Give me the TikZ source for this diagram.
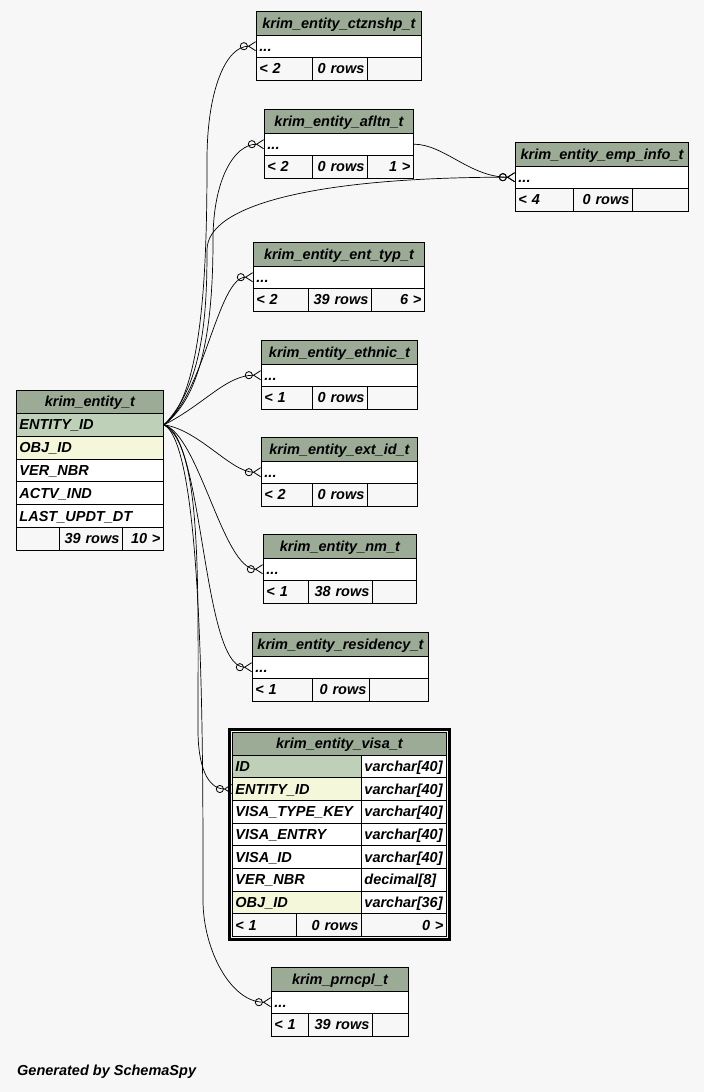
\documentclass[tikz,border=0pt]{standalone}
\usepackage{fontspec}
\setmainfont{Liberation Sans}
\usetikzlibrary{arrows.meta}

\definecolor{bgcol}{HTML}{F7F7F7}
\definecolor{headcol}{HTML}{9BAB96}
\definecolor{pkcol}{HTML}{BED1B8}
\definecolor{idxcol}{HTML}{F4F7DA}

\tikzset{
  tblcell/.style={draw, line width=0.9pt, anchor=north west, inner xsep=3pt, inner ysep=0pt,
    text height=12pt, text depth=2pt, align=left,
    font=\fontsize{14.5}{16}\selectfont\bfseries\itshape},
  tblhead/.style={tblcell, fill=headcol, align=center, minimum height=23.5pt},
  tblrow/.style={tblcell, fill=white, minimum height=22.7pt},
  tblfoot/.style={tblcell, fill=bgcol, minimum height=22.5pt},
  fk/.style={line width=0.7pt,
    -{Circle[open,length=8pt,line width=0.8pt]Straight Barb[reversed,length=7pt,width=9pt,line width=0.8pt]}}
}

\begin{document}
\begin{tikzpicture}[x=1pt,y=-1pt]
  \fill[bgcol] (0,0) rectangle (704,1092);
  \useasboundingbox (0,0) rectangle (704,1092);

  % the table in focus
  \node[tblhead, text width=141pt] (ent-head) at (16,389.5) {krim\_entity\_t};
  \foreach \n/\lbl/\col [count=\r from 0] in {id/{ENTITY\_ID}/pkcol, obj/{OBJ\_ID}/idxcol,
      ver/{VER\_NBR}/white, actv/{ACTV\_IND}/white, upd/{LAST\_UPDT\_DT}/white}
    \node[tblrow, text width=141pt, fill=\col] (ent-\n) at (16,{413+22.8*\r}) {\lbl};
  \node[tblfoot, text width=37pt] (ent-fa) at (16,527) {};
  \node[tblfoot, text width=57pt, align=right] (ent-fb) at (59,527) {39 rows};
  \node[tblfoot, text width=35pt, align=right] (ent-fc) at (122,527) {10 >};

  % small tables: name/left/right/top/split1/split2/title/footer texts
  \foreach \n/\xa/\xb/\ya/\da/\db/\ti/\fa/\fb/\fc in {
      ctz/256/421/11/312/367/{krim\_entity\_ctznshp\_t}/{< 2}/{0 rows}/{},
      afl/264/413/109/312/367/{krim\_entity\_afltn\_t}/{< 2}/{0 rows}/{1 >},
      emp/515/688/142/573/632/{krim\_entity\_emp\_info\_t}/{< 4}/{0 rows}/{},
      typ/253/424/242/308/371/{krim\_entity\_ent\_typ\_t}/{< 2}/{39 rows}/{6 >},
      eth/261/417/340/312/367/{krim\_entity\_ethnic\_t}/{< 1}/{0 rows}/{},
      ext/261/417/437/312/367/{krim\_entity\_ext\_id\_t}/{< 2}/{0 rows}/{},
      nm/263/416/534/308/372/{krim\_entity\_nm\_t}/{< 1}/{38 rows}/{},
      res/252/428/632/312/369/{krim\_entity\_residency\_t}/{< 1}/{0 rows}/{},
      prn/271/408/967/308/372/{krim\_prncpl\_t}/{< 1}/{39 rows}/{}}
  {
    \pgfmathsetmacro{\wh}{\xb-\xa-6}
    \pgfmathsetmacro{\wa}{\da-\xa-6}
    \pgfmathsetmacro{\wb}{\db-\da-6}
    \pgfmathsetmacro{\wc}{\xb-\db-6}
    \pgfmathsetmacro{\yb}{\ya+23.5}
    \pgfmathsetmacro{\yc}{\yb+22.5}
    \node[tblhead, text width=\wh pt] (\n-head) at (\xa,\ya) {\ti};
    \node[tblrow, text width=\wh pt, minimum height=22.5pt] (\n-row) at (\xa,\yb) {...};
    \node[tblfoot, text width=\wa pt] (\n-fa) at (\xa,\yc) {\fa};
    \node[tblfoot, text width=\wb pt, align=right] (\n-fb) at (\da,\yc) {\fb};
    \node[tblfoot, text width=\wc pt, align=right] (\n-fc) at (\db,\yc) {\fc};
  }

  % krim_entity_visa_t, shown with its columns
  \node[tblhead, text width=208pt] (vis-head) at (232,731.5) {krim\_entity\_visa\_t};
  \foreach \n/\lbl/\typ/\col [count=\r from 0] in {
      id/ID/{varchar[40]}/pkcol, eid/{ENTITY\_ID}/{varchar[40]}/idxcol,
      key/{VISA\_TYPE\_KEY}/{varchar[40]}/white, entry/{VISA\_ENTRY}/{varchar[40]}/white,
      vid/{VISA\_ID}/{varchar[40]}/white, ver/{VER\_NBR}/{decimal[8]}/white,
      obj/{OBJ\_ID}/{varchar[36]}/idxcol}
  {
    \node[tblrow, text width=123pt, fill=\col] (vis-\n) at (232,{754.5+22.7*\r}) {\lbl};
    \node[tblrow, text width=79pt] (vis-\n-type) at (361,{754.5+22.7*\r}) {\typ};
  }
  \node[tblfoot, text width=58pt] (vis-fa) at (232,913.4) {< 1};
  \node[tblfoot, text width=59pt, align=right] (vis-fb) at (296,913.4) {0 rows};
  \node[tblfoot, text width=79pt, align=right] (vis-fc) at (361,913.4) {0 >};
  \draw[line width=3pt] ([shift={(-2.5,-2.5)}]vis-head.north west)
    rectangle ([shift={(2.5,2.5)}]vis-fc.south east);

  % foreign keys
  \draw[fk] (ent-id.east) .. controls +(40,-30) and +(0,100) .. (207,160)
    .. controls +(0,-70) and +(-30,0) .. (ctz-row.west);
  \draw[fk] (ent-id.east) .. controls +(40,-30) and +(0,80) .. (213,240)
    .. controls +(0,-60) and +(-30,0) .. (afl-row.west);
  \draw[fk] (ent-id.east) .. controls +(40,-40) and +(0,60) .. (207,250)
    .. controls +(0,-45) and +(-200,0) .. (emp-row.west);
  \draw[fk] (afl-row.east) .. controls +(30,0) and +(-45,0) .. (emp-row.west);
  \draw[fk] (ent-id.east) .. controls +(40,-30) and +(-35,0) .. (typ-row.west);
  \draw[fk] (ent-id.east) .. controls +(40,-20) and +(-35,0) .. (eth-row.west);
  \draw[fk] (ent-id.east) .. controls +(35,5) and +(-30,0) .. (ext-row.west);
  \draw[fk] (ent-id.east) .. controls +(35,10) and +(-40,0) .. (nm-row.west);
  \draw[fk] (ent-id.east) .. controls +(40,10) and +(-50,0) .. (res-row.west);
  \draw[fk] (ent-id.east) .. controls +(38,20) and +(0,-150) .. (198,730)
    .. controls +(0,35) and +(-25,0) .. (vis-eid.west);
  \draw[fk] (ent-id.east) .. controls +(40,20) and +(0,-150) .. (203,900)
    .. controls +(0,50) and +(-40,0) .. (prn-row.west);

  \node[anchor=west, inner sep=0pt, font=\fontsize{14.5}{16}\selectfont\bfseries\itshape]
    (gen) at (17,1072) {Generated by SchemaSpy};
\end{tikzpicture}
\end{document}
